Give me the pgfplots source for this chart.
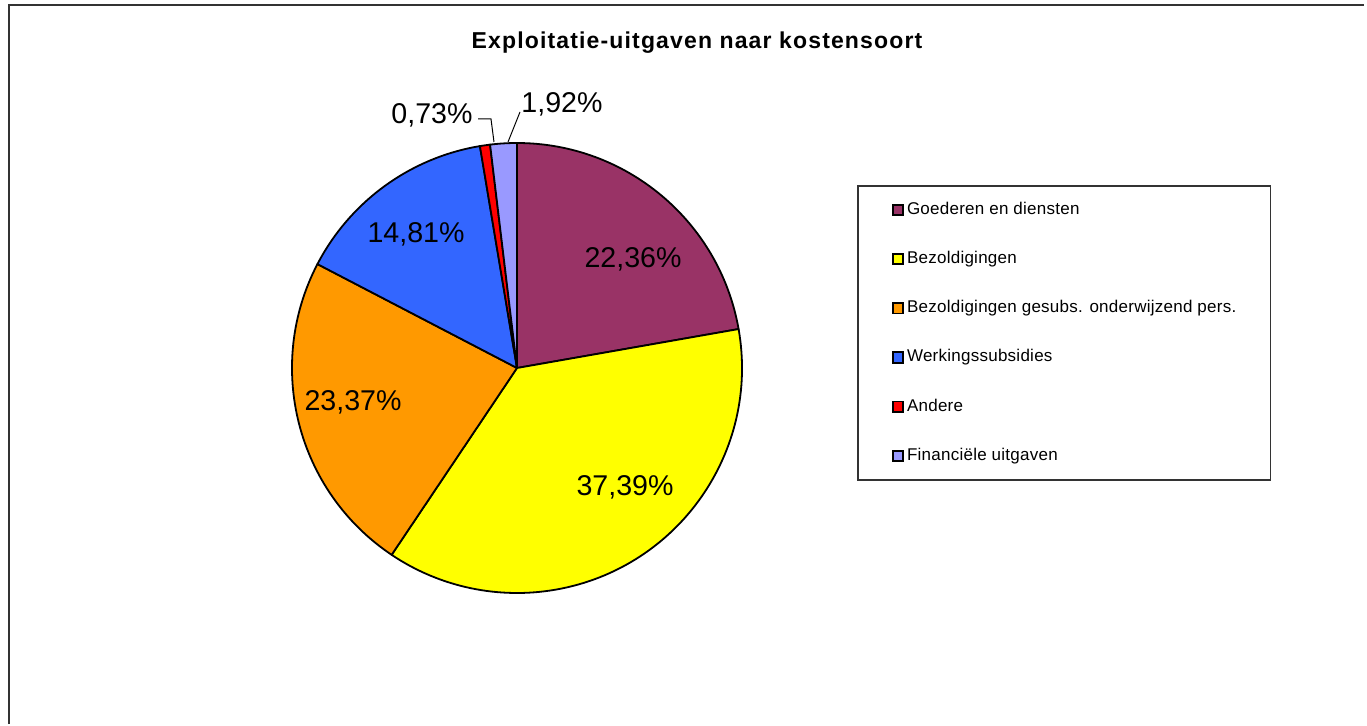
\documentclass[border=0pt]{standalone}
\usepackage{pgfplots}
\pgfplotsset{compat=1.18}
\usepackage{pgfplotstable}
\usepackage{fontspec}
\setmainfont{Liberation Sans}
\definecolor{cgoed}{HTML}{993366}
\definecolor{cbez}{HTML}{FFFF00}
\definecolor{cgesubs}{HTML}{FF9900}
\definecolor{cwerk}{HTML}{3366FF}
\definecolor{cand}{HTML}{FF0000}
\definecolor{cfin}{HTML}{9999FF}
\definecolor{frame}{HTML}{333333}

\pgfplotstableread{
value col
22.36 cgoed
37.39 cbez
23.37 cgesubs
14.81 cwerk
0.73  cand
1.92  cfin
}\piedata

\begin{document}
\begin{tikzpicture}
% total of the slices
\def\total{0}
\pgfplotsforeachungrouped \i in {0,...,5}{%
  \pgfplotstablegetelem{\i}{value}\of\piedata
  \pgfmathsetmacro\total{\total+\pgfplotsretval}%
}
\begin{axis}[
  width=683.5pt, height=362pt, scale only axis,
  xmin=0, xmax=1367, ymin=0, ymax=724,
  hide axis, clip=false,
  legend image code/.code={\filldraw[#1,draw=black,line width=0.9pt] (0pt,-2.6pt) rectangle (5.2pt,2.6pt);},
  legend cell align=left,
  legend style={at={(axis cs:857,539)}, anchor=north west,
    draw=frame, line width=0.8pt,
    font=\fontsize{8.5}{10}\selectfont\addfontfeatures{LetterSpace=1.5},
    inner xsep=17pt, inner ysep=8pt, row sep=16.6pt,
    nodes={inner sep=0pt, text height=6.2pt, text depth=1.8pt},
    /tikz/every odd column/.append style={column sep=1.5pt}},
]
% full chart area as bounding box
\path (rel axis cs:0,0) rectangle (rel axis cs:1,1);
% border of the chart area
\draw[frame, line width=1pt] (axis cs:9,0) -- (axis cs:9,719) -- (axis cs:1364,719);
% slices
\def\cum{0}
\pgfplotsforeachungrouped \i in {0,...,5}{%
  \pgfplotstablegetelem{\i}{value}\of\piedata \let\v\pgfplotsretval
  \pgfplotstablegetelem{\i}{col}\of\piedata \edef\c{\pgfplotsretval}%
  \pgfmathsetmacro\astart{90-360*(\cum/\total)}%
  \pgfmathsetmacro\cum{\cum+\v}%
  \pgfmathsetmacro\aend{90-360*(\cum/\total)}%
  \edef\tmp{\noexpand\filldraw[fill=\c, draw=black, line width=0.9pt, line join=round]
    (axis cs:517,356) -- ++(\astart:112.5pt) arc[start angle=\astart, end angle=\aend, radius=112.5pt] -- cycle;}%
  \tmp
}
% title
\node[anchor=base, font=\fontsize{11.5}{13}\selectfont\bfseries\addfontfeatures{LetterSpace=5}] at (axis cs:697,675) {Exploitatie-uitgaven naar kostensoort};
% data labels
\begin{scope}[every node/.style={anchor=base, font=\fontsize{14.3}{16}\selectfont}]
\node at (axis cs:633,457) {22,36\%};
\node at (axis cs:625,229) {37,39\%};
\node at (axis cs:353,314) {23,37\%};
\node at (axis cs:416,481) {14,81\%};
\node at (axis cs:432,600) {0,73\%};
\node at (axis cs:562,611) {1,92\%};
\end{scope}
% leader lines
\draw[black, line width=0.5pt] (axis cs:478,605) -- (axis cs:491,605) -- (axis cs:494,582);
\draw[black, line width=0.5pt] (axis cs:520,612) -- (axis cs:508,582);
% legend
\addlegendimage{fill=cgoed}\addlegendentry{Goederen en diensten}
\addlegendimage{fill=cbez}\addlegendentry{Bezoldigingen}
\addlegendimage{fill=cgesubs}\addlegendentry{Bezoldigingen gesubs. onderwijzend pers.}
\addlegendimage{fill=cwerk}\addlegendentry{Werkingssubsidies}
\addlegendimage{fill=cand}\addlegendentry{Andere}
\addlegendimage{fill=cfin}\addlegendentry{Financiële uitgaven}
\end{axis}
\end{tikzpicture}
\end{document}
